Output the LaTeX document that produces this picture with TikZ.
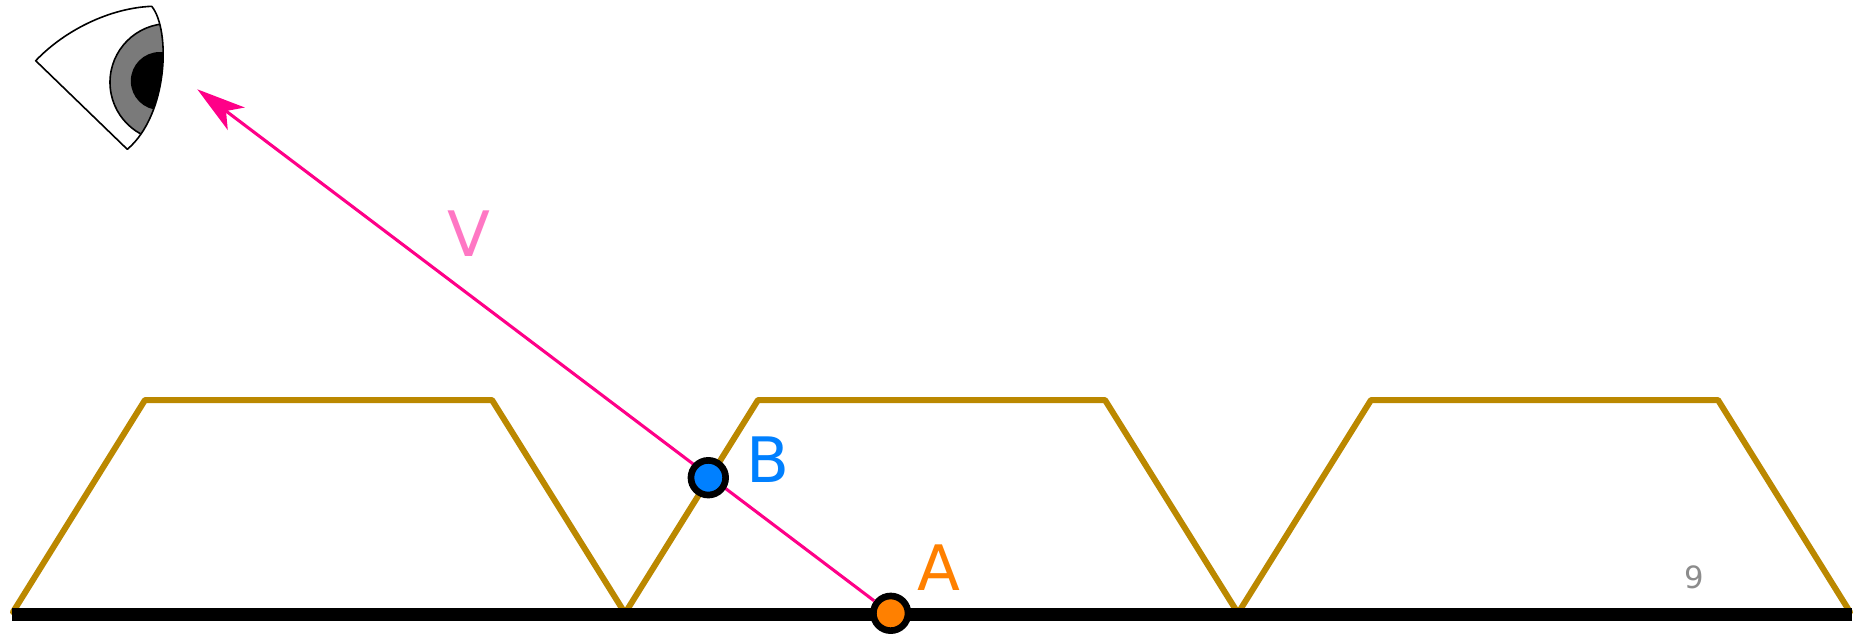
\documentclass[tikz,border=0pt]{standalone}
\usepackage{fontspec}
\setmainfont{DejaVu Sans}
\usetikzlibrary{arrows.meta}
\definecolor{goldc}{RGB}{187,136,0}
\definecolor{pinkc}{RGB}{255,0,136}
\definecolor{vc}{RGB}{255,119,196}
\definecolor{bluec}{RGB}{0,128,255}
\definecolor{orangec}{RGB}{255,128,0}
\definecolor{irisc}{RGB}{122,122,122}
\tikzset{
  goldline/.style={draw=goldc,line width=4.5pt,line join=round,line cap=round},
  ground/.style={draw=black,line width=10pt},
  ray/.style={draw=pinkc,line width=2.3pt,-{Stealth[length=36.5pt,width=21pt,inset=9.5pt,fill=pinkc]}},
  dotnode/.style={circle,draw=black,line width=5pt,minimum size=26pt,inner sep=0pt},
  biglabel/.style={inner sep=0pt,font=\fontsize{47}{47}\selectfont},
  pagenum/.style={inner sep=0pt,text=black!45,font=\fontsize{23}{23}\selectfont},
  eyeline/.style={draw=black,line width=1.2pt,line join=round}
}
\begin{document}
\begin{tikzpicture}[x=0.75pt,y=-0.75pt]
\useasboundingbox (0,0) rectangle (1859,633);
\coordinate (g1) at (12,614.5);
\coordinate (g2) at (1852,614.5);
\coordinate (tip) at (197.3,89.3);
% trapezoids
\draw[goldline] (13,612) -- (145,400) -- (492,400) -- (623,610);
\draw[goldline] (627,610) -- (758,400) -- (1105,400) -- (1236,610);
\draw[goldline] (1240,610) -- (1371,400) -- (1718,400) -- (1850,612);
\draw[ground] (g1) -- (g2);
% point A, ray, point B
\node[dotnode,fill=orangec] (A) at (890.7,613.3) {};
\draw[ray] (A) -- (tip);
\node[dotnode,fill=bluec] (B) at (708.3,477.7) {};
% labels
\node[biglabel,text=orangec] (la) at (938.5,568) {A};
\node[biglabel,text=bluec] (lb) at (768,460) {B};
\node[biglabel,text=vc] (lv) at (469,234) {V};
\node[pagenum] (nine) at (1694,577) {9};
% eye
\begin{scope}
\clip (35.7,60.7) .. controls (65,30) and (110,8) .. (151.7,6.3)
   .. controls (171,30) and (168,115) .. (127.3,149.3) -- cycle;
\fill[white] (0,0) rectangle (200,160);
\draw[eyeline,fill=irisc] (168.7,82.3) circle[radius=58.7];
\fill[black] (159.8,81) circle[radius=29];
\end{scope}
\draw[eyeline] (35.7,60.7) .. controls (65,30) and (110,8) .. (151.7,6.3)
   .. controls (171,30) and (168,115) .. (127.3,149.3) -- cycle;
\end{tikzpicture}
\end{document}
